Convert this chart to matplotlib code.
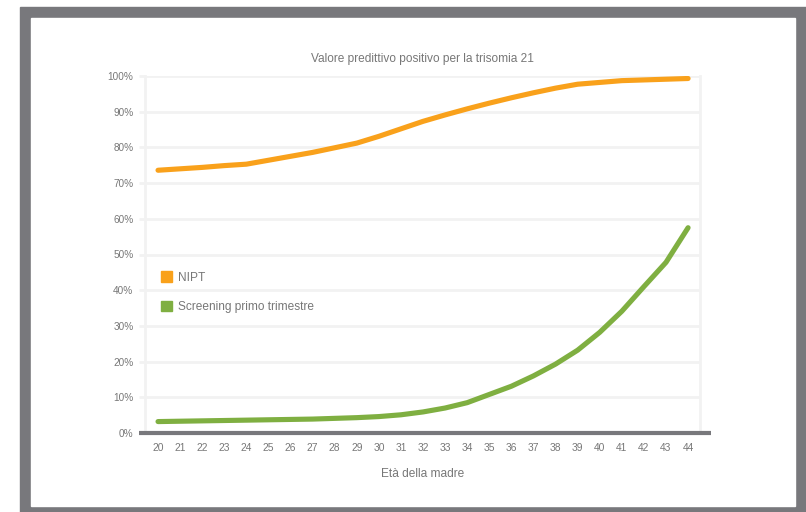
import matplotlib.pyplot as plt
from matplotlib.patches import Rectangle, Patch

ages = list(range(20, 45))
nipt = [73.6, 74.0, 74.4, 74.9, 75.3, 76.4, 77.5, 78.6, 79.9, 81.2, 83.1, 85.2, 87.3,
        89.1, 90.8, 92.4, 93.9, 95.3, 96.6, 97.7, 98.2, 98.7, 98.9, 99.1, 99.3]
screening = [3.2, 3.3, 3.4, 3.5, 3.6, 3.7, 3.8, 3.9, 4.1, 4.3, 4.6, 5.1, 5.9,
             7.0, 8.5, 10.8, 13.1, 16.0, 19.3, 23.2, 28.2, 34.1, 41.0, 47.8, 57.5]
yticks = list(range(0, 101, 10))

orange = "#F9A11B"
green = "#7FAF41"
frame_gray = "#78787c"
grid_c = "#f2f2f2"
txt = "#777777"

plt.rcParams['font.family'] = ['Liberation Sans', 'DejaVu Sans']

W, H = 806, 512
fig = plt.figure(figsize=(W / 100, H / 100), dpi=100)

# grey frame around the chart
fig.patches.append(Rectangle((20 / W, 0), (W - 20) / W, (H - 7) / H,
                             transform=fig.transFigure, color=frame_gray, zorder=-2))
fig.patches.append(Rectangle((31 / W, 6 / H), (795 - 31) / W, (506 - 18) / H,
                             transform=fig.transFigure, color="white", zorder=-1))

ax = fig.add_axes([145 / W, (H - 433) / H, 555 / W, 357 / H])
ax.set_zorder(1)
ax.set_facecolor("none")
ax.set_xlim(19.41, 44.54)
ax.set_ylim(0, 100)

for s in ["top", "bottom"]:
    ax.spines[s].set_visible(False)
for s in ["left", "right"]:
    ax.spines[s].set_color(grid_c)
    ax.spines[s].set_linewidth(2)

ax.set_yticks(yticks)
ax.set_yticklabels([f"{v}%" for v in yticks])
ax.yaxis.grid(True, color=grid_c, linewidth=2)
ax.tick_params(axis="y", length=4.3, width=2, color=grid_c, labelsize=7.2, labelcolor=txt, pad=4)
ax.set_xticks(ages)
ax.set_xticklabels([str(a) for a in ages])
ax.tick_params(axis="x", length=0, labelsize=7.4, labelcolor=txt, pad=7)
ax.set_axisbelow(True)

ax.plot(ages, nipt, color=orange, linewidth=3.7, solid_capstyle="round", solid_joinstyle="round")
ax.plot(ages, screening, color=green, linewidth=3.7, solid_capstyle="round", solid_joinstyle="round")

# dark baseline
ax.plot([-0.011, 1.02], [0, 0], transform=ax.transAxes, color=frame_gray,
        linewidth=3, clip_on=False, solid_capstyle="butt", zorder=5)

ax.set_title("Valore predittivo positivo per la trisomia 21", fontsize=8.6, color=txt, pad=10)
ax.set_xlabel("Età della madre", fontsize=8.6, color=txt, labelpad=11)

handles = [Patch(color=orange, label="NIPT"), Patch(color=green, label="Screening primo trimestre")]
leg = ax.legend(handles=handles, loc="upper left", bbox_to_anchor=(0.029, 0.453),
                frameon=False, fontsize=8.6, handlelength=0.95, handleheight=0.95,
                handletextpad=0.45, labelspacing=1.45, borderpad=0, borderaxespad=0)
for t in leg.get_texts():
    t.set_color(txt)

fig.savefig("out.png", dpi=100)
